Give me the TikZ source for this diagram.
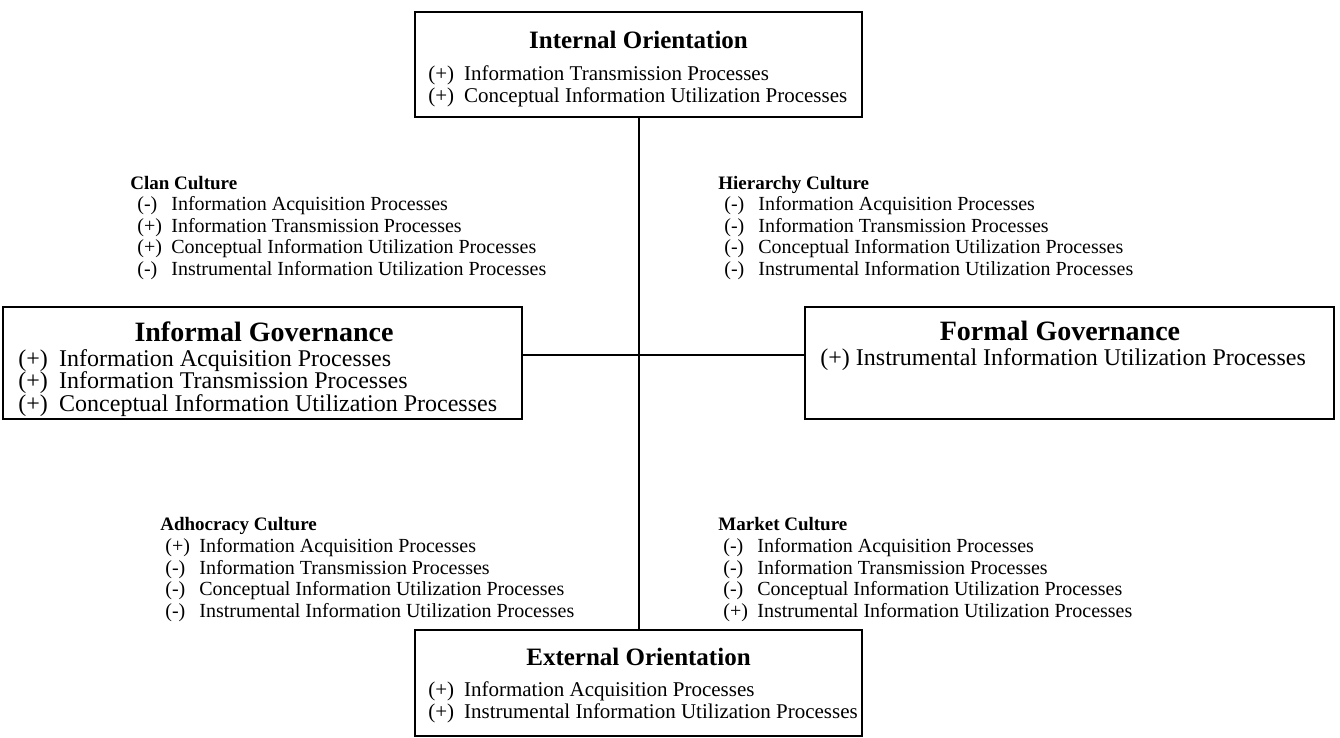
\documentclass[tikz,border=0pt]{standalone}
\usepackage{fontspec}
\setmainfont{Liberation Serif}
\newcommand{\mk}[1]{\makebox[1.7em][l]{#1}}
\begin{document}
\begin{tikzpicture}[x=0.5pt,y=-0.5pt,
  box/.style={draw,line width=1.3pt,inner sep=0pt},
  link/.style={line width=1pt},
  ttlA/.style={font=\bfseries\fontsize{12.5}{14}\selectfont,inner sep=0pt},
  bodyA/.style={font=\fontsize{10.5}{11}\selectfont,align=left,inner sep=0pt,anchor=west},
  ttlB/.style={font=\bfseries\fontsize{14}{16}\selectfont,inner sep=0pt},
  bodyB/.style={font=\fontsize{12}{11.25}\selectfont,align=left,inner sep=0pt,anchor=west},
  cttl/.style={font=\bfseries\fontsize{9.5}{11}\selectfont,inner sep=0pt,anchor=base west},
  cbody/.style={font=\fontsize{10}{10.75}\selectfont,align=left,inner sep=0pt,anchor=west}]
\useasboundingbox (0,0) rectangle (1340,738);
% boxes
\node[box,minimum width=223.5pt,minimum height=52.5pt] (internal) at (638.5,64.5) {};
\node[box,minimum width=223.5pt,minimum height=53pt] (external) at (638.5,683) {};
\node[box,minimum width=259.5pt,minimum height=56pt] (informal) at (262.5,363) {};
\node[box,minimum width=264.5pt,minimum height=56pt] (formal) at (1069.5,363) {};
\coordinate (hub) at (638.5,355);
% connectors
\draw[link] (internal.south) -- (external.north);
\draw[link] (informal.east |- hub) -- (formal.west |- hub);
% box texts
\node[ttlA] (intT) at (638.5,40) {Internal Orientation};
\node[bodyA] (intL) at (428,86) {\mk{(+)}Information Transmission Processes\\\mk{(+)}Conceptual Information Utilization Processes};
\node[ttlA] (extT) at (638.5,657) {External Orientation};
\node[bodyA] (extL) at (428,702) {\mk{(+)}Information Acquisition Processes\\\mk{(+)}Instrumental Information Utilization Processes};
\node[ttlB] (infT) at (264,332) {Informal Governance};
\node[bodyB] (infL) at (18,383) {\mk{(+)}Information Acquisition Processes\\\mk{(+)}Information Transmission Processes\\\mk{(+)}Conceptual Information Utilization Processes};
\node[ttlB] (forT) at (1060,331) {Formal Governance};
\node[bodyB] (forL) at (820,360) {(+) Instrumental Information Utilization Processes};
% cultures
\node[cttl] (clanT) at (130,190) {Clan Culture};
\node[cbody] (clanL) at (137,238) {\mk{(-)}Information Acquisition Processes\\\mk{(+)}Information Transmission Processes\\\mk{(+)}Conceptual Information Utilization Processes\\\mk{(-)}Instrumental Information Utilization Processes};
\node[cttl] (hierT) at (718,190) {Hierarchy Culture};
\node[cbody] (hierL) at (724,238) {\mk{(-)}Information Acquisition Processes\\\mk{(-)}Information Transmission Processes\\\mk{(-)}Conceptual Information Utilization Processes\\\mk{(-)}Instrumental Information Utilization Processes};
\node[cttl] (adhT) at (160,530) {Adhocracy Culture};
\node[cbody] (adhL) at (165,580) {\mk{(+)}Information Acquisition Processes\\\mk{(-)}Information Transmission Processes\\\mk{(-)}Conceptual Information Utilization Processes\\\mk{(-)}Instrumental Information Utilization Processes};
\node[cttl] (mktT) at (718,530) {Market Culture};
\node[cbody] (mktL) at (723,580) {\mk{(-)}Information Acquisition Processes\\\mk{(-)}Information Transmission Processes\\\mk{(-)}Conceptual Information Utilization Processes\\\mk{(+)}Instrumental Information Utilization Processes};
\end{tikzpicture}
\end{document}
